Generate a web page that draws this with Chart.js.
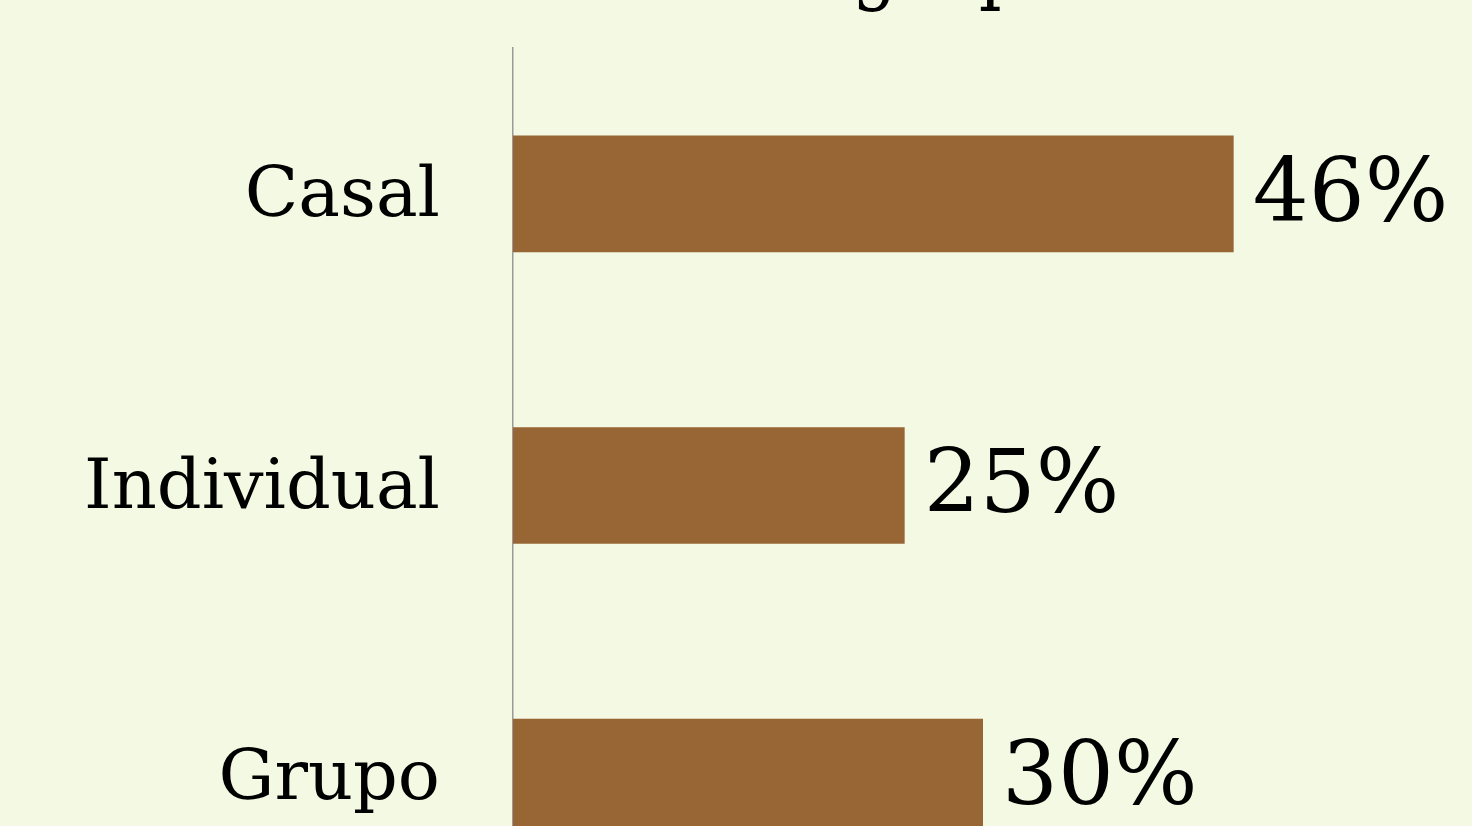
<!DOCTYPE html>
<html>
<head>
<meta charset="utf-8">
<script src="https://cdn.jsdelivr.net/npm/chart.js@4"></script>
<style>
    html, body { margin: 0; padding: 0; background: #F3F9E3; overflow: hidden; }
    #wrap { position: relative; width: 1472px; height: 826px; overflow: hidden; }
    #chart { position: absolute; left: 0; top: -100px; }
</style>
</head>
<body>
<div id="wrap"><canvas id="chart" width="1472" height="1138"></canvas></div>
<script>
const categories = ['Casal', 'Individual', 'Grupo'];
const shares = [46, 25, 30];
const titleText = 'Tamanho do grupo';

const FONT = '"DejaVu Serif", serif';
const TITLE_FONT = '"DejaVu Serif Condensed", "DejaVu Serif", serif';

// value labels to the right of each bar
const valueLabels = {
    id: 'valueLabels',
    afterDatasetsDraw(chart) {
        const ctx = chart.ctx;
        const meta = chart.getDatasetMeta(0);
        ctx.save();
        ctx.font = '88px ' + FONT;
        ctx.fillStyle = '#000';
        ctx.textAlign = 'left';
        ctx.textBaseline = 'middle';
        meta.data.forEach((bar, i) => {
            ctx.fillText(shares[i] + '%', bar.x + 19, bar.y + 4);
        });
        ctx.restore();
    }
};

new Chart(document.getElementById('chart'), {
    type: 'bar',
    data: {
        labels: categories,
        datasets: [{
            data: shares,
            backgroundColor: '#986534',
            barPercentage: 0.4,
            categoryPercentage: 1.0
        }]
    },
    options: {
        indexAxis: 'y',
        responsive: false,
        animation: false,
        layout: { padding: { left: 0, right: 19, top: 0, bottom: 78 } },
        plugins: {
            legend: { display: false },
            tooltip: { enabled: false },
            title: {
                display: true,
                text: titleText,
                color: '#000',
                font: { family: TITLE_FONT, size: 80, weight: 'normal', lineHeight: 1 },
                padding: { top: 33, bottom: 35 }
            }
        },
        scales: {
            x: { display: false, min: 0, max: 60 },
            y: {
                grid: { display: false, drawTicks: false },
                border: { display: true, color: '#9a9a9a', width: 1.5 },
                ticks: {
                    color: '#000',
                    padding: 73,
                    labelOffset: 4,
                    font: { family: FONT, size: 70 }
                },
                afterFit(scale) { scale.width = 513; }
            }
        }
    },
    plugins: [valueLabels]
});
</script>
</body>
</html>
